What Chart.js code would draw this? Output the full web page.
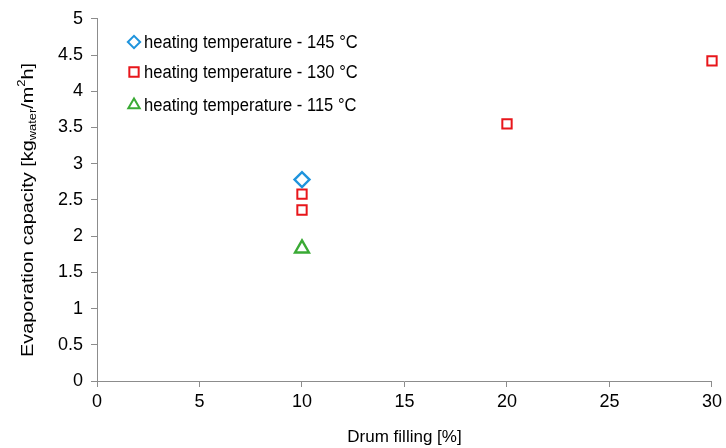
<!DOCTYPE html>
<html><head><meta charset="utf-8">
<script src="https://cdn.jsdelivr.net/npm/chart.js@4/dist/chart.umd.min.js"></script>
<style>html,body{margin:0;padding:0;background:#fff}#wrap{width:726px;height:448px}</style>
</head><body><div id="wrap"><canvas id="c" width="726" height="448"></canvas></div>
<script>
const seriesLabels = ['heating temperature - 145 °C','heating temperature - 130 °C','heating temperature - 115 °C'];
const x145 = [10];
const y145 = [2.78];
const x130 = [10, 10, 20, 30];
const y130 = [2.58, 2.36, 3.55, 4.42];
const x115 = [10];
const y115 = [1.83];
const xTicks = [0,5,10,15,20,25,30];
const yTicks = [0,0.5,1,1.5,2,2.5,3,3.5,4,4.5,5];

const pts = (xs, ys) => xs.map((x,i)=>({x, y: ys[i]}));
const FONT = "'Liberation Sans', Arial, sans-serif";

const legendPlugin = {
  id: 'inlegend',
  afterDraw(chart) {
    const ctx = chart.ctx;
    const rows = [42, 72, 105];
    const lscale = [0.82, 1.0, 0.82];
    chart.data.datasets.forEach((ds, i) => {
      const y = rows[i];
      ctx.save();
      ctx.strokeStyle = ds.borderColor; ctx.fillStyle = 'rgba(0,0,0,0)'; ctx.lineWidth = 2;
      Chart.helpers.drawPoint(ctx, {pointStyle: ds.pointStyle, radius: ds.pointRadius * lscale[i], borderWidth: 2}, 134, y);
      ctx.restore();
      ctx.save();
      ctx.translate(144, y + 1);
      ctx.scale(0.92, 1);
      ctx.fillStyle = '#000'; ctx.font = '18px ' + FONT; ctx.textBaseline = 'middle'; ctx.textAlign = 'left';
      ctx.fillText(ds.label, 0, 0);
      ctx.restore();
    });
    // y axis title with subscript / superscript
    ctx.save();
    ctx.translate(28, 210);
    ctx.rotate(-Math.PI/2);
    ctx.scale(1.17, 1);
    ctx.fillStyle = '#000';
    ctx.textBaseline = 'middle';
    const big = '17px ' + FONT, small = '11px ' + FONT;
    const parts = [['Evaporation capacity [kg', big, 0], ['water', small, 5], ['/m', big, 0], ['2', small, -6], ['h]', big, 0]];
    let total = 0;
    parts.forEach(p => { ctx.font = p[1]; total += ctx.measureText(p[0]).width; });
    let xx = -total/2;
    ctx.textAlign = 'left';
    parts.forEach(p => { ctx.font = p[1]; ctx.fillText(p[0], xx, p[2]); xx += ctx.measureText(p[0]).width; });
    ctx.restore();
  }
};

new Chart(document.getElementById('c'), {
  type: 'scatter',
  data: {
    datasets: [
      {label: seriesLabels[0], data: pts(x145, y145), clip: false, pointStyle: 'rectRot', pointRadius: 7.5, pointHoverRadius: 7.5, borderColor: '#1f94dd', backgroundColor: 'rgba(0,0,0,0)', pointBorderWidth: 2.4},
      {label: seriesLabels[1], data: pts(x130, y130), clip: false, pointStyle: 'rect', pointRadius: 6.6, pointHoverRadius: 6.6, borderColor: '#e8161b', backgroundColor: 'rgba(0,0,0,0)', pointBorderWidth: 2},
      {label: seriesLabels[2], data: pts(x115, y115), clip: false, pointStyle: 'triangle', pointRadius: 8, pointHoverRadius: 8, borderColor: '#3aaa35', backgroundColor: 'rgba(0,0,0,0)', pointBorderWidth: 2.4}
    ]
  },
  options: {
    responsive: false,
    animation: false,
    layout: {padding: {top: 18, right: 13, left: 0, bottom: 0}},
    plugins: {legend: {display: false}, tooltip: {enabled: false}},
    scales: {
      x: {
        type: 'linear', min: 0, max: 30,
        afterBuildTicks: s => { s.ticks = xTicks.map(v => ({value: v})); },
        afterFit: s => { s.height = 67; },
        border: {color: '#8c8c8c', width: 1},
        grid: {display: true, drawOnChartArea: false, color: '#8c8c8c', tickLength: 6},
        ticks: {color: '#000', font: {size: 18, family: FONT}, padding: 4, maxRotation: 0, callback: v => String(v)},
        title: {display: true, text: 'Drum filling [%]', color: '#000', font: {size: 17, family: FONT}, padding: {top: 2, bottom: 0}}
      },
      y: {
        type: 'linear', min: 0, max: 5,
        afterBuildTicks: s => { s.ticks = yTicks.map(v => ({value: v})); },
        afterFit: s => { s.width = 97; },
        border: {color: '#8c8c8c', width: 1},
        grid: {display: true, drawOnChartArea: false, color: '#8c8c8c', tickLength: 6},
        ticks: {color: '#000', font: {size: 18, family: FONT}, padding: 8, callback: v => String(v)}
      }
    }
  },
  plugins: [legendPlugin]
});
</script></body></html>
